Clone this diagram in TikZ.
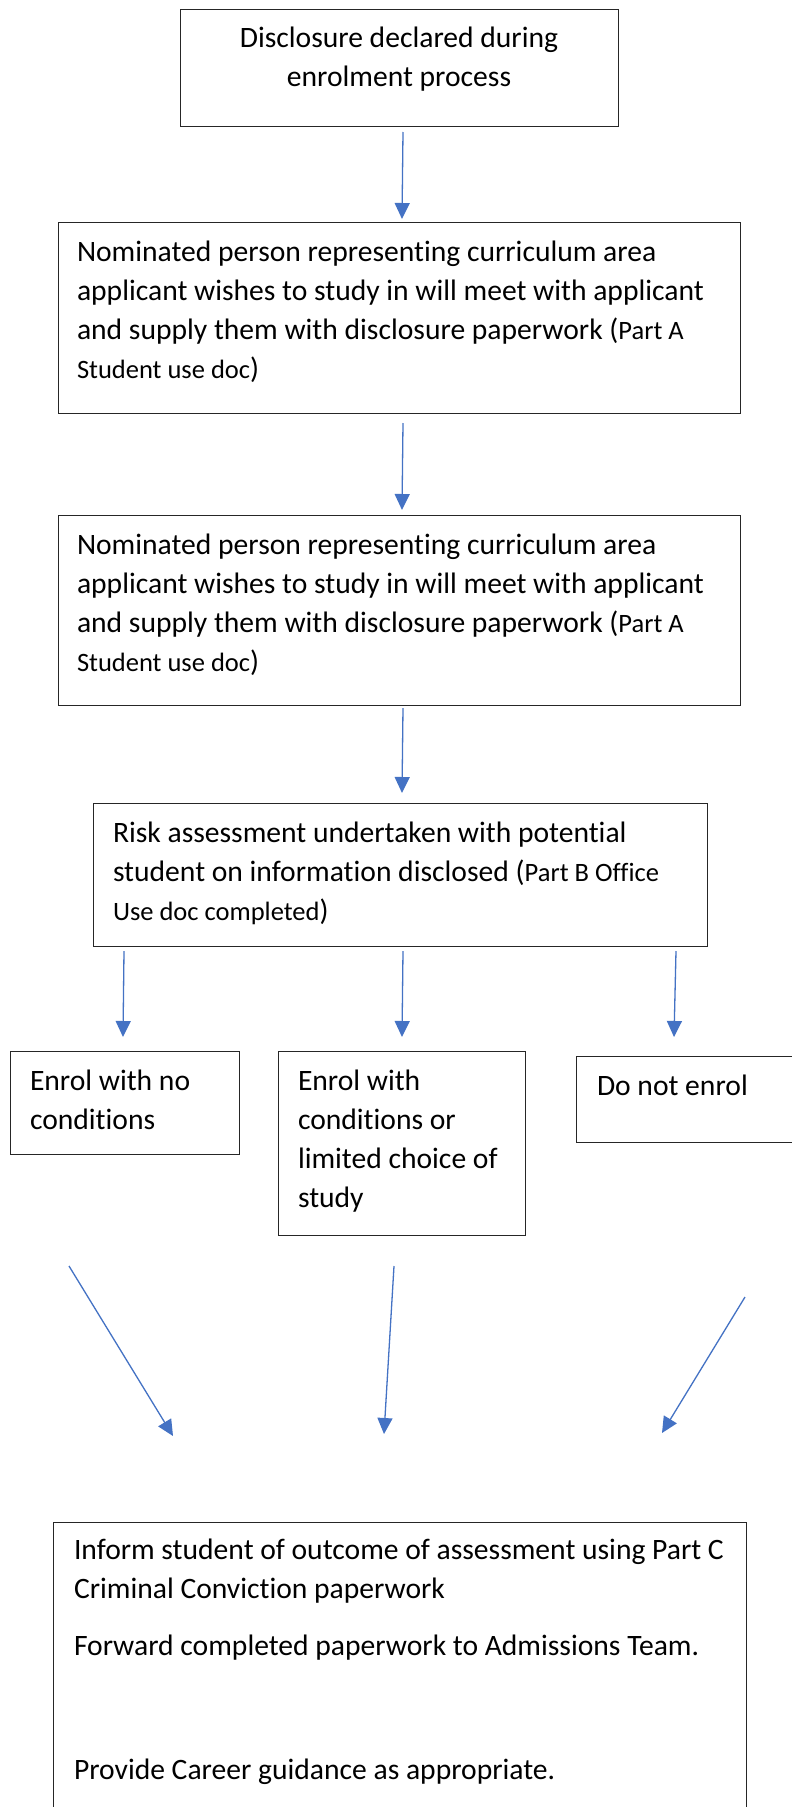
\documentclass[tikz,border=0pt]{standalone}
\usepackage{fontspec}
\setmainfont{Carlito}[Ligatures=NoCommon]
\usetikzlibrary{arrows.meta}
\definecolor{arrblue}{HTML}{4472C4}
\newcommand{\bigf}{\fontsize{29.6}{39}\selectfont}
\newcommand{\smf}{\fontsize{26.5}{39}\selectfont}
\begin{document}
\begin{tikzpicture}[x=1pt,y=-1pt,
  box/.style={draw=black!85,line width=0.9pt,inner sep=0pt,outer sep=0pt,anchor=north west},
  txt/.style={inner sep=0pt,outer sep=0pt,anchor=north west,align=left,font=\bigf},
  arr/.style={draw=arrblue,line width=1.3pt,-{Triangle[width=15pt,length=16pt]}}]
\useasboundingbox (0,0) rectangle (792,1807);
\fill[white] (0,0) rectangle (792,1807);
% boxes
\node[box,minimum width=438pt,minimum height=117pt] (b1) at (180,9) {};
\node[box,minimum width=682pt,minimum height=191pt] (b2) at (58,222) {};
\node[box,minimum width=682pt,minimum height=190pt] (b3) at (58,515) {};
\node[box,minimum width=614pt,minimum height=143pt] (b4) at (93,803) {};
\node[box,minimum width=229pt,minimum height=103pt] (b5) at (10,1051) {};
\node[box,minimum width=247pt,minimum height=184pt] (b6) at (278,1051) {};
\node[box,minimum width=240pt,minimum height=86pt] (b7) at (576,1056) {};
\node[box,minimum width=693pt,minimum height=300pt] (b8) at (53,1522) {};
% texts
\node[txt,anchor=north,align=center] (t1) at (399,19.7) {\strut Disclosure declared during\\enrolment process};
\node[txt] (t2) at (77,233.7) {\strut Nominated person representing curriculum area\\applicant wishes to study in will meet with applicant\\and supply them with disclosure paperwork ({\smf Part A}\\{\smf Student use doc})};
\node[txt] (t3) at (77,526.7) {\strut Nominated person representing curriculum area\\applicant wishes to study in will meet with applicant\\and supply them with disclosure paperwork ({\smf Part A}\\{\smf Student use doc})};
\node[txt] (t4) at (113,814.7) {\strut Risk assessment undertaken with potential\\student on information disclosed ({\smf Part B Office}\\{\smf Use doc completed})};
\node[txt] (t5) at (30,1062.7) {\strut Enrol with no\\conditions};
\node[txt] (t6) at (298,1062.7) {\strut Enrol with\\conditions or\\limited choice of\\study};
\node[txt] (t7) at (597,1067.7) {\strut Do not enrol};
\node[txt] (t8a) at (74,1531.7) {\strut Inform student of outcome of assessment using Part C\\Criminal Conviction paperwork};
\node[txt] (t8b) at (74,1627.7) {\strut Forward completed paperwork to Admissions Team.};
\node[txt] (t8c) at (74,1751.7) {\strut Provide Career guidance as appropriate.};
% connectors
\draw[arr] ([xshift=4pt,yshift=-6pt]b1.south) -- ([xshift=3pt,yshift=3pt]b2.north);
\draw[arr] ([xshift=4pt,yshift=-10pt]b2.south) -- ([xshift=3pt,yshift=5pt]b3.north);
\draw[arr] ([xshift=4pt,yshift=-3pt]b3.south) -- ([xshift=2pt,yshift=10pt]b4.north);
\draw[arr] ([xshift=31pt,yshift=-5pt]b4.south west) -- ([xshift=-1.5pt,yshift=14pt]b5.north);
\draw[arr] ([xshift=3pt,yshift=-5pt]b4.south) -- ([xshift=0.5pt,yshift=14pt]b6.north);
\draw[arr] ([xshift=-31pt,yshift=-5pt]b4.south east) -- ([xshift=98pt,yshift=19pt]b7.north west);
\coordinate (d1s) at (69,1266);
\coordinate (d1e) at (173,1436);
\coordinate (d2s) at (394,1266);
\coordinate (d2e) at (384,1434);
\coordinate (d3s) at (745,1297);
\coordinate (d3e) at (662,1433);
\draw[arr] (d1s) -- (d1e);
\draw[arr] (d2s) -- (d2e);
\draw[arr] (d3s) -- (d3e);
\end{tikzpicture}
\end{document}
